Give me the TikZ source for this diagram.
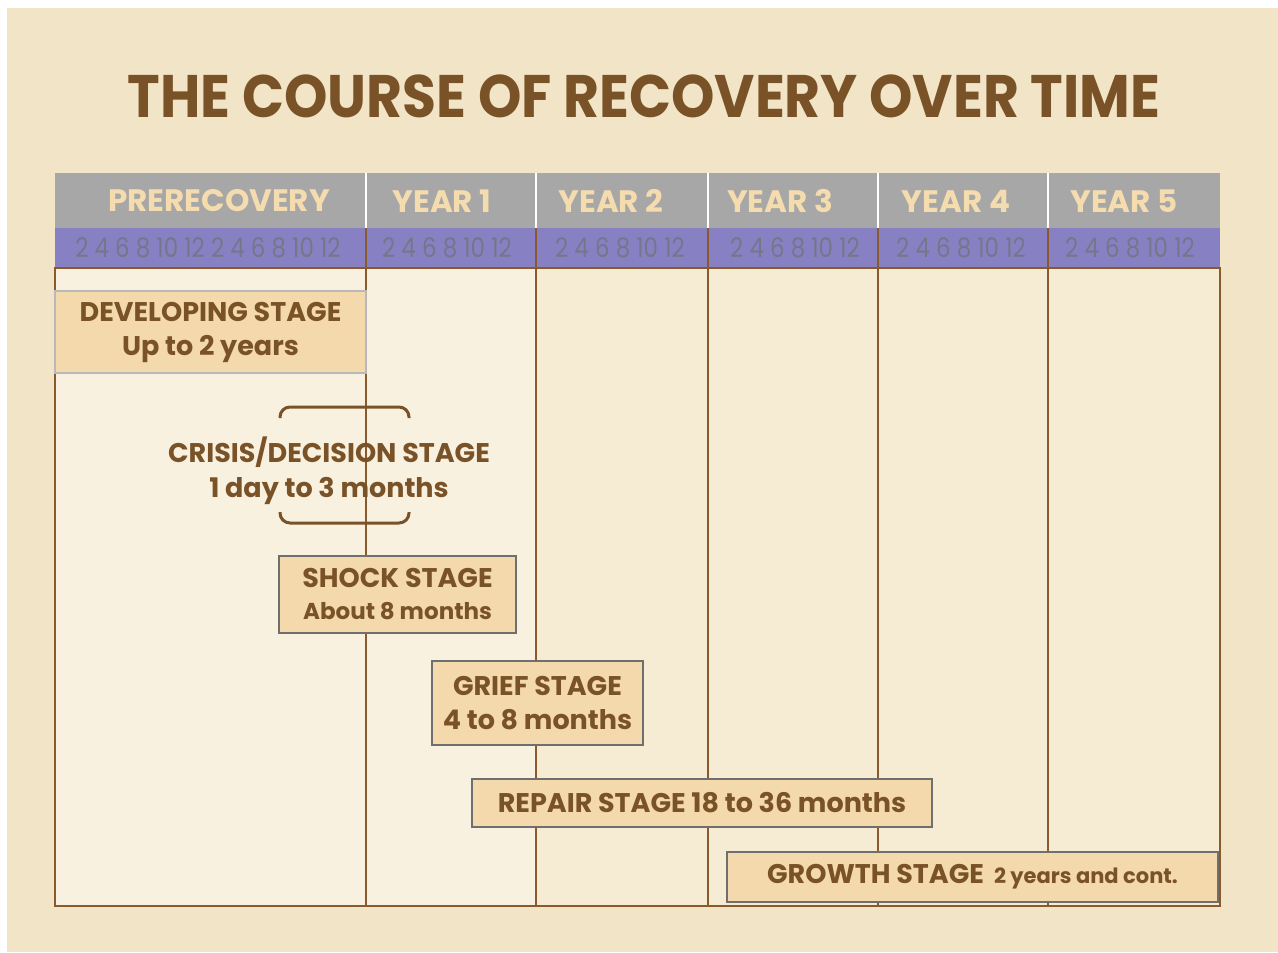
\documentclass[tikz,border=0pt]{standalone}
\usepackage{fontspec}
\setmainfont{Poppins}
\newfontfamily\slimfont[FakeStretch=0.85]{Poppins}
\newfontfamily\titlefont[FakeStretch=0.92]{Poppins}

\definecolor{paper}{HTML}{F2E5C7}
\definecolor{cream}{HTML}{F9F1DF}
\definecolor{ink}{HTML}{7A5228}
\definecolor{rule}{HTML}{8A5A2C}
\definecolor{headgray}{HTML}{A6A7A6}
\definecolor{headtext}{HTML}{F5DCAE}
\definecolor{band}{HTML}{8781C3}
\definecolor{bandtext}{HTML}{76768A}
\definecolor{boxfill}{HTML}{F3D9AB}
\definecolor{boxline}{HTML}{6F6F6F}

\begin{document}
\begin{tikzpicture}[x=0.5pt, y=-0.5pt,
    head/.style={text=headtext, font=\bfseries\fontsize{15.5}{18}\selectfont},
    months/.style={text=bandtext, font=\slimfont\fontsize{13.5}{15}\selectfont},
    stage/.style={fill=boxfill, draw=boxline, line width=1pt, text=ink, align=center,
      inner sep=0pt, font=\bfseries\fontsize{13.5}{17}\selectfont}]
  % page: a thin white strip on top and left, parchment elsewhere
  \fill[white] (0,0) rectangle (1278,952);
  \fill[paper] (7,8) rectangle (1278,952);
  \node[text=ink, font=\titlefont\bfseries\fontsize{30}{36}\selectfont] (title) at (644,96)
    {THE COURSE OF RECOVERY OVER TIME};
  % table: head row 173-228, month band 228-268, body 268-906
  \fill[headgray] (55,173) rectangle (1220,228);
  \fill[band] (55,228) rectangle (1220,268);
  \fill[cream] (55,268) rectangle (536,906);
  \fill[cream!55!paper] (536,268) rectangle (1220,906);
  \foreach \x in {366,536,708,878,1048} {
    \draw[white, line width=1pt] (\x,173) -- (\x,228);
    \draw[rule, line width=1.2pt] (\x,228) -- (\x,906);
  }
  \draw[rule, line width=1.2pt] (55,268) rectangle (1220,906);
  % column heads and months
  \node[head] (hpre) at (219,201) {PRERECOVERY};
  \node[months] (mpre) at (208,248) {2 4 6 8 10 12 2 4 6 8 10 12};
  \foreach \n/\hx/\mx in {1/442/447, 2/611/620, 3/780/795, 4/956/961, 5/1124/1130} {
    \node[head] (hy\n) at (\hx,201) {YEAR \n};
    \node[months] (my\n) at (\mx,248) {2 4 6 8 10 12};
  }
  % stages
  \node[stage, draw=gray!55, minimum width=155.5pt, minimum height=41pt] (develop) at (210.5,332)
    {DEVELOPING STAGE\\Up to 2 years};
  \node[text=ink, align=center, font=\bfseries\fontsize{13.5}{17.5}\selectfont] (crisis) at (329,471)
    {CRISIS/DECISION STAGE\\1 day to 3 months};
  \draw[ink, line width=1.5pt, rounded corners=5pt] (280,418) -- (280,407) -- (409,407) -- (409,418);
  \draw[ink, line width=1.5pt, rounded corners=5pt] (280,512) -- (280,523) -- (409,523) -- (409,512);
  \node[stage, minimum width=118.5pt, minimum height=38.5pt] (shock) at (397.5,594.5)
    {SHOCK STAGE\\[-1pt]{\fontsize{11.5}{13}\selectfont About 8 months}};
  \node[stage, minimum width=105.5pt, minimum height=42pt] (grief) at (537.5,703)
    {GRIEF STAGE\\4 to 8 months};
  \node[stage, minimum width=230pt, minimum height=24pt] (repair) at (702,803)
    {REPAIR STAGE 18 to 36 months};
  \node[stage, minimum width=245.5pt, minimum height=25pt] (growth) at (972.5,877)
    {GROWTH STAGE\hspace{5pt}{\fontsize{10.5}{12}\selectfont 2 years and cont.}};
\end{tikzpicture}
\end{document}
